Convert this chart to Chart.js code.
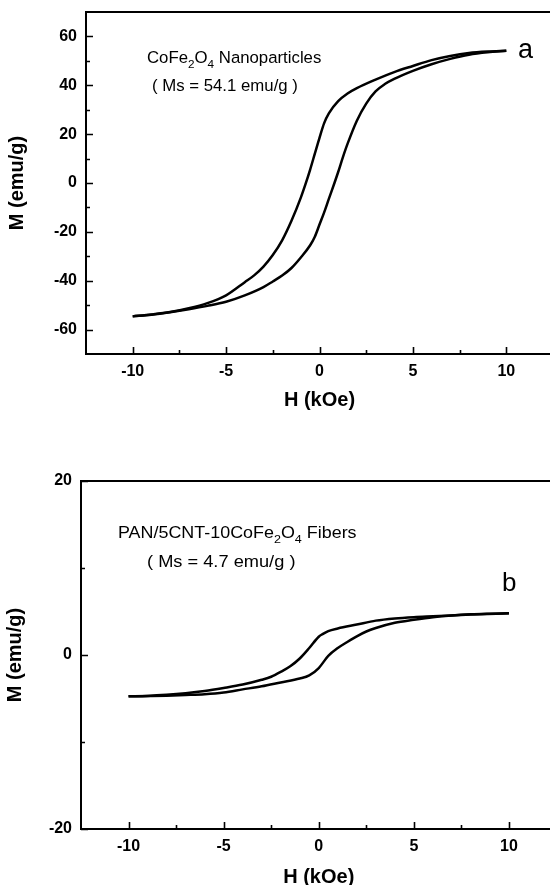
<!DOCTYPE html>
<html>
<head>
<meta charset="utf-8">
<script src="https://cdn.jsdelivr.net/npm/chart.js@4.4.1/dist/chart.umd.min.js"></script>
<style>
    html, body { margin: 0; padding: 0; background: #fff; overflow: hidden; width: 550px; height: 885px; }
    .panel { position: absolute; left: 0; width: 570px; }
    #panelA { top: 0; height: 420px; }
    #panelB { top: 440px; height: 460px; }
</style>
</head>
<body>
<div class="panel" id="panelA"><canvas id="chartA"></canvas></div>
<div class="panel" id="panelB"><canvas id="chartB"></canvas></div>
<script>
// ---- data (a) CoFe2O4 nanoparticles ----
const hDescA = [10, 9, 8, 7, 6, 5, 4, 3, 2, 1.5, 1, 0.5, 0.25, 0, -0.25, -0.5, -0.75, -1, -1.5, -2, -2.5, -3, -3.5, -4, -5, -6, -7, -8, -9, -10];
const mDescA = [54.1, 53.8, 53.2, 52.0, 50.3, 47.9, 45.4, 42.3, 38.8, 36.6, 33.5, 28.5, 24.5, 18.5, 12.0, 5.5, -0.5, -6.0, -15.5, -23.5, -29.5, -34.2, -37.8, -40.6, -46.0, -49.2, -51.3, -52.8, -53.8, -54.6];
const hAscA = [-10, -9, -8, -7, -6, -5, -4, -3, -2.5, -2, -1.5, -1, -0.5, -0.25, 0, 0.25, 0.5, 0.8, 1, 1.25, 1.5, 2, 2.5, 3, 3.5, 4, 5, 6, 7, 8, 9, 10];
const mAscA = [-54.6, -53.9, -52.9, -51.7, -50.3, -48.6, -46.0, -42.6, -40.3, -37.9, -34.8, -30.5, -25.5, -22.0, -17.0, -12.0, -6.5, 0, 4.5, 10.5, 16.0, 25.5, 32.5, 37.5, 40.5, 42.6, 45.9, 48.6, 50.8, 52.5, 53.5, 54.1];

// ---- data (b) PAN/5CNT-10CoFe2O4 fibers ----
const hDescB = [10, 8, 6, 5, 4, 3, 2, 1, 0.5, 0.2, 0, -0.5, -1, -1.5, -2, -2.5, -3, -4, -5, -6, -7, -8, -9, -10];
const mDescB = [4.8, 4.65, 4.45, 4.35, 4.2, 3.95, 3.5, 3.05, 2.75, 2.4, 2.1, 0.8, -0.4, -1.3, -1.95, -2.5, -2.85, -3.4, -3.8, -4.15, -4.4, -4.58, -4.7, -4.75];
const hAscB = [-10, -9, -8, -7, -6, -5, -4, -3, -2, -1, -0.5, 0, 0.5, 1, 1.5, 2, 2.5, 3, 4, 5, 6, 7, 8, 9, 10];
const mAscB = [-4.75, -4.72, -4.68, -4.6, -4.5, -4.3, -3.95, -3.6, -3.15, -2.7, -2.35, -1.5, -0.1, 0.8, 1.5, 2.15, 2.7, 3.1, 3.7, 4.05, 4.35, 4.55, 4.68, 4.75, 4.8];

// ---- ticks ----
const xMajor = [-10, -5, 0, 5, 10];
const xMinor = [-7.5, -2.5, 2.5, 7.5];
const yMajorA = [-60, -40, -20, 0, 20, 40, 60];
const yMinorA = [-50, -30, -10, 10, 30, 50];
const yMajorB = [-20, 0, 20];
const yMinorB = [-10, 10];

const FONT = '"Liberation Sans", Arial, Helvetica, sans-serif';

function pts(hs, ms) {
    return hs.map((h, i) => ({ x: h, y: ms[i] }));
}

// box + inward ticks + notes
const frame = {
    id: 'frame',
    afterDatasetsDraw(chart, args, opts) {
        const { ctx, chartArea: a, scales: { x, y } } = chart;
        ctx.save();
        ctx.strokeStyle = '#000';
        ctx.lineWidth = 2;
        ctx.strokeRect(a.left, a.top, a.right - a.left, a.bottom - a.top);

        ctx.lineWidth = 1.6;
        ctx.beginPath();
        const xt = (vals, len) => vals.forEach(v => {
            const px = Math.round(x.getPixelForValue(v)) + 0.5;
            ctx.moveTo(px, a.bottom); ctx.lineTo(px, a.bottom - len);
        });
        const yt = (vals, len) => vals.forEach(v => {
            const py = Math.round(y.getPixelForValue(v)) + 0.5;
            ctx.moveTo(a.left, py); ctx.lineTo(a.left + len, py);
        });
        xt(xMajor, 7); xt(xMinor, 4);
        yt(opts.yMajor, 7); yt(opts.yMinor, 4);
        ctx.stroke();

        // notes, with a horizontal stretch like the original figure
        ctx.fillStyle = '#000';
        ctx.textBaseline = 'alphabetic';
        opts.notes.forEach(n => {
            const sx = n.sx || 1;
            ctx.save();
            ctx.translate(n.x, n.y);
            ctx.scale(sx, 1);
            let cx = 0;
            n.parts.forEach(p => {
                const size = p.sub ? n.size * 0.7 : n.size;
                ctx.font = size + 'px ' + FONT;
                ctx.fillText(p.t, cx, p.sub ? 5 : 0);
                cx += ctx.measureText(p.t).width;
            });
            ctx.restore();
        });
        ctx.restore();
    }
};

function makeChart(id, cfg) {
    return new Chart(document.getElementById(id), {
        type: 'scatter',
        data: {
            datasets: [
                { data: pts(cfg.hDesc, cfg.mDesc) },
                { data: pts(cfg.hAsc, cfg.mAsc) }
            ]
        },
        options: {
            responsive: true,
            maintainAspectRatio: false,
            animation: false,
            showLine: true,
            elements: {
                point: { radius: 0 },
                line: { borderColor: '#000', borderWidth: 2.5, cubicInterpolationMode: 'monotone', fill: false }
            },
            layout: { padding: cfg.pad },
            plugins: {
                legend: { display: false },
                tooltip: { enabled: false },
                frame: { yMajor: cfg.yMajor, yMinor: cfg.yMinor, notes: cfg.notes }
            },
            scales: {
                x: {
                    type: 'linear', min: -12.5, max: 12.5,
                    grid: { display: false, drawTicks: false },
                    border: { display: false },
                    afterBuildTicks: s => { s.ticks = xMajor.map(v => ({ value: v })); },
                    afterFit: s => { s.height = cfg.xHeight; s.paddingLeft = 0; s.paddingRight = 0; },
                    ticks: { color: '#000', padding: 8, maxRotation: 0, font: { family: FONT, size: 16, weight: 'bold' } },
                    title: { display: true, text: 'H (kOe)', color: '#000', padding: { top: 0, bottom: cfg.xTitlePad }, font: { family: FONT, size: 20, weight: 'bold' } }
                },
                y: {
                    type: 'linear', min: cfg.yMin, max: cfg.yMax,
                    grid: { display: false, drawTicks: false },
                    border: { display: false },
                    afterBuildTicks: s => { s.ticks = cfg.yMajor.map(v => ({ value: v })); },
                    afterFit: s => { s.width = cfg.yWidth; s.paddingTop = 0; s.paddingBottom = 0; },
                    ticks: { color: '#000', padding: 9, font: { family: FONT, size: 16, weight: 'bold' } },
                    title: { display: true, text: 'M (emu/g)', color: '#000', padding: { top: cfg.yTitlePad, bottom: 0 }, font: { family: FONT, size: 20, weight: 'bold' } }
                }
            }
        },
        plugins: [frame]
    });
}

makeChart('chartA', {
    hDesc: hDescA, mDesc: mDescA, hAsc: hAscA, mAsc: mAscA,
    yMin: -70, yMax: 70, yMajor: yMajorA, yMinor: yMinorA,
    pad: { top: 12, left: 0, right: 17, bottom: 0 },
    xHeight: 66, yWidth: 86, xTitlePad: 8, yTitlePad: 5,
    notes: [
        { x: 147, y: 63, size: 16.3, sx: 1.03, parts: [{ t: 'CoFe' }, { t: '2', sub: true }, { t: 'O' }, { t: '4', sub: true }, { t: ' Nanoparticles' }] },
        { x: 152, y: 91, size: 16.3, sx: 1.03, parts: [{ t: '( Ms = 54.1 emu/g )' }] },
        { x: 518, y: 58, size: 27, parts: [{ t: 'a' }] }
    ]
});

makeChart('chartB', {
    hDesc: hDescB, mDesc: mDescB, hAsc: hAscB, mAsc: mAscB,
    yMin: -20, yMax: 20, yMajor: yMajorB, yMinor: yMinorB,
    pad: { top: 41, left: 0, right: 13.5, bottom: 0 },
    xHeight: 71, yWidth: 81, xTitlePad: 11, yTitlePad: 3,
    notes: [
        { x: 118, y: 98, size: 16.3, sx: 1.1, parts: [{ t: 'PAN/5CNT-10CoFe' }, { t: '2', sub: true }, { t: 'O' }, { t: '4', sub: true }, { t: ' Fibers' }] },
        { x: 147, y: 127, size: 16.3, sx: 1.12, parts: [{ t: '( Ms = 4.7 emu/g )' }] },
        { x: 502, y: 151, size: 26, parts: [{ t: 'b' }] }
    ]
});
</script>
</body>
</html>
